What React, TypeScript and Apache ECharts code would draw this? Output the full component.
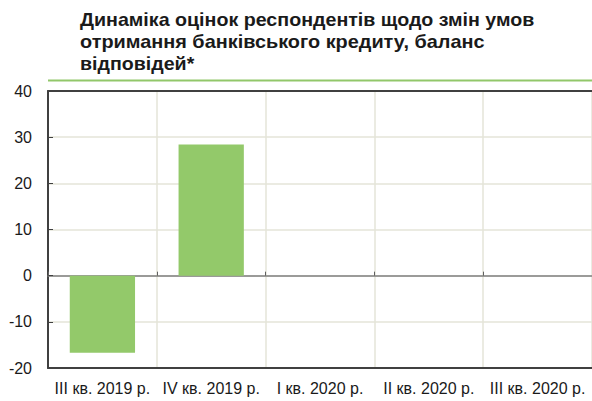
import React, { useEffect, useRef } from "react";
import * as echarts from "echarts";

const titleLines = [
  "Динаміка оцінок респондентів щодо змін умов",
  "отримання банківського кредиту, баланс",
  "відповідей*",
];
const titleStretch = [1.092, 1.105, 1.09];
const categories = [
  "III кв. 2019 р.",
  "IV кв. 2019 р.",
  "I кв. 2020 р.",
  "II кв. 2020 р.",
  "III кв. 2020 р.",
];
const values: (number | null)[] = [-16.7, 28.4, null, null, null];
const yMin = -20;
const yMax = 40;
const yStep = 10;

export default function App() {
  const ref = useRef<HTMLDivElement>(null);
  useEffect(() => {
    if (!ref.current) return;
    const chart = echarts.init(ref.current, undefined, { renderer: "svg" });
    const font = "'Liberation Sans', Arial, sans-serif";
    chart.setOption({
      animation: false,
      backgroundColor: "#ffffff",
      graphic: [
        ...titleLines.map((t, i) => ({
          type: "text",
          x: 80,
          y: 10.5 + i * 22,
          scaleX: titleStretch[i],
          style: {
            text: t,
            font: `bold 18px ${font}`,
            fill: "#1a1a1a",
            align: "left",
            verticalAlign: "top",
          },
        })),
        {
          type: "line",
          shape: { x1: 48, y1: 80.5, x2: 592, y2: 80.5 },
          style: { stroke: "#92c76a", lineWidth: 2 },
        },
      ],
      grid: { left: 48, right: 0, top: 91, bottom: 33, containLabel: false },
      xAxis: [
        {
          type: "category",
          data: categories,
          position: "bottom",
          axisLine: { onZero: false, lineStyle: { color: "#404040", width: 2 } },
          axisTick: { show: false },
          splitLine: { show: true, lineStyle: { color: "#e4e4d8", width: 1.5 } },
          axisLabel: {
            interval: 0,
            margin: 12,
            fontFamily: font,
            fontSize: 16,
            color: "#1a1a1a",
          },
        },
        {
          type: "category",
          data: categories,
          position: "top",
          axisLine: { onZero: false, lineStyle: { color: "#404040", width: 2 } },
          axisTick: { show: false },
          axisLabel: { show: false },
        },
        {
          type: "category",
          data: categories,
          position: "bottom",
          axisLine: { onZero: true, lineStyle: { color: "#808080", width: 1.5 } },
          axisTick: { show: true, inside: true, length: 4, lineStyle: { color: "#606060" } },
          axisLabel: { show: false },
        },
      ],
      yAxis: {
        type: "value",
        min: yMin,
        max: yMax,
        interval: yStep,
        axisLine: { show: true, lineStyle: { color: "#404040", width: 2 } },
        axisTick: { show: true, inside: true, length: 5, lineStyle: { color: "#404040" } },
        splitLine: { show: true, lineStyle: { color: "#e4e4d8", width: 1.5 } },
        axisLabel: {
          margin: 16,
          fontFamily: font,
          fontSize: 16,
          color: "#1a1a1a",
        },
      },
      series: [
        {
          type: "bar",
          data: values,
          xAxisIndex: 0,
          barWidth: "60%",
          itemStyle: { color: "#93c96a" },
        },
      ],
    });
    return () => chart.dispose();
  }, []);
  return <div ref={ref} style={{ width: 592, height: 401, position: "absolute", left: 0, top: 0 }} />;
}
